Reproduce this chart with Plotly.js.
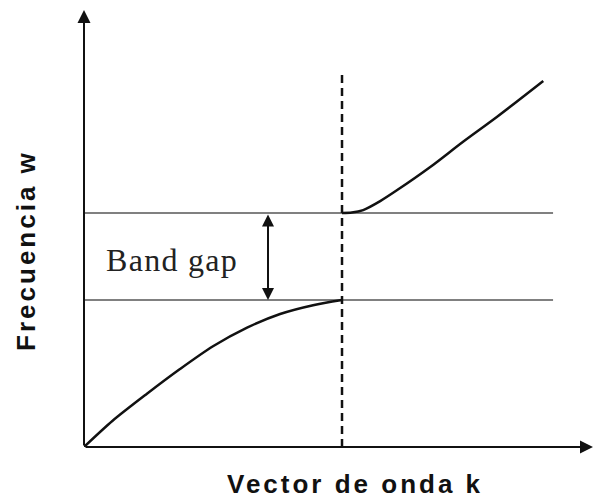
<!DOCTYPE html>
<html>
<head>
<meta charset="utf-8">
<script src="https://cdn.plot.ly/plotly-3.0.1.min.js"></script>
<style>html,body{margin:0;padding:0;background:#fff;}</style>
</head>
<body>
<div id="chart" style="width:593px;height:502px;"></div>
<script>
// Lower (acoustic-like) branch: wave vector k and frequency w
const kLower = [0, 0.056, 0.122, 0.186, 0.250, 0.316, 0.380, 0.444, 0.5];
const wLower = [0, 0.180, 0.362, 0.530, 0.685, 0.812, 0.905, 0.965, 1.0];
// Upper branch
const kUpper = [0.5, 0.519, 0.541, 0.574, 0.607, 0.671, 0.734, 0.800, 0.890];
const wUpper = [1.592, 1.595, 1.612, 1.673, 1.748, 1.905, 2.075, 2.245, 2.490];
// Band edges and zone boundary
const bandLow = 1.0;
const bandHigh = 1.592;
const kZone = 0.5;
const kLineEnd = 0.909;
const dashTop = 2.544;
const kMax = 0.9864;
const wMax = 2.973;
const kGapArrow = 0.3566;

const labels = {
  x: 'Vector de onda k',
  y: 'Frecuencia w',
  gap: 'Band gap'
};

const traces = [
  {x: [0, kLineEnd], y: [bandHigh, bandHigh], mode: 'lines', line: {color: '#808080', width: 2}},
  {x: [0, kLineEnd], y: [bandLow, bandLow], mode: 'lines', line: {color: '#808080', width: 2}},
  {x: [kZone, kZone], y: [0, dashTop], mode: 'lines', line: {color: '#111', width: 2.5, dash: '8px,5px'}},
  {x: kLower, y: wLower, mode: 'lines', line: {color: '#111', width: 2.5, shape: 'spline', smoothing: 0.8}},
  {x: kUpper, y: wUpper, mode: 'lines', line: {color: '#111', width: 2.5, shape: 'spline', smoothing: 0.8}}
];

const layout = {
  width: 593, height: 502,
  margin: {l: 84, r: 0, t: 10, b: 55, pad: 0},
  paper_bgcolor: '#fff', plot_bgcolor: '#fff',
  showlegend: false,
  xaxis: {range: [0, kMax], visible: false, fixedrange: true},
  yaxis: {range: [0, wMax], visible: false, fixedrange: true},
  annotations: [
    // y axis arrow
    {x: 0, y: wMax, ax: 0, ay: 0, xref: 'x', yref: 'y', axref: 'x', ayref: 'y',
     showarrow: true, arrowhead: 2, arrowsize: 1.3, arrowwidth: 2, arrowcolor: '#111', text: ''},
    // x axis arrow
    {x: kMax, y: 0, ax: 0, ay: 0, xref: 'x', yref: 'y', axref: 'x', ayref: 'y',
     showarrow: true, arrowhead: 2, arrowsize: 1.3, arrowwidth: 2, arrowcolor: '#111', text: ''},
    // band gap double arrow
    {x: kGapArrow, y: bandLow, ax: kGapArrow, ay: bandHigh, xref: 'x', yref: 'y', axref: 'x', ayref: 'y',
     showarrow: true, arrowhead: 2, startarrowhead: 2, arrowside: 'end+start', arrowsize: 1.2, startarrowsize: 1.2,
     arrowwidth: 2, arrowcolor: '#111', text: ''},
    // band gap label
    {x: 0.171, y: 1.272, xref: 'x', yref: 'y', showarrow: false,
     text: '<span style="letter-spacing:1.3px">' + labels.gap + '</span>',
     font: {family: 'Liberation Serif, Times New Roman, serif', size: 32, color: '#222'},
     xanchor: 'center', yanchor: 'middle'},
    // x title
    {x: 0.532, y: -0.0847, xref: 'paper', yref: 'paper', showarrow: false,
     text: '<span style="letter-spacing:3px">' + labels.x + '</span>',
     font: {family: 'Liberation Sans, Arial, sans-serif', size: 26, color: '#111', weight: 'bold'},
     xanchor: 'center', yanchor: 'middle'},
    // y title
    {x: -0.114, y: 0.451, xref: 'paper', yref: 'paper', showarrow: false, textangle: -90,
     text: '<span style="letter-spacing:3px">' + labels.y + '</span>',
     font: {family: 'Liberation Sans, Arial, sans-serif', size: 26, color: '#111', weight: 'bold'},
     xanchor: 'center', yanchor: 'middle'}
  ]
};

Plotly.newPlot('chart', traces, layout, {staticPlot: true, displayModeBar: false});
</script>
</body>
</html>
